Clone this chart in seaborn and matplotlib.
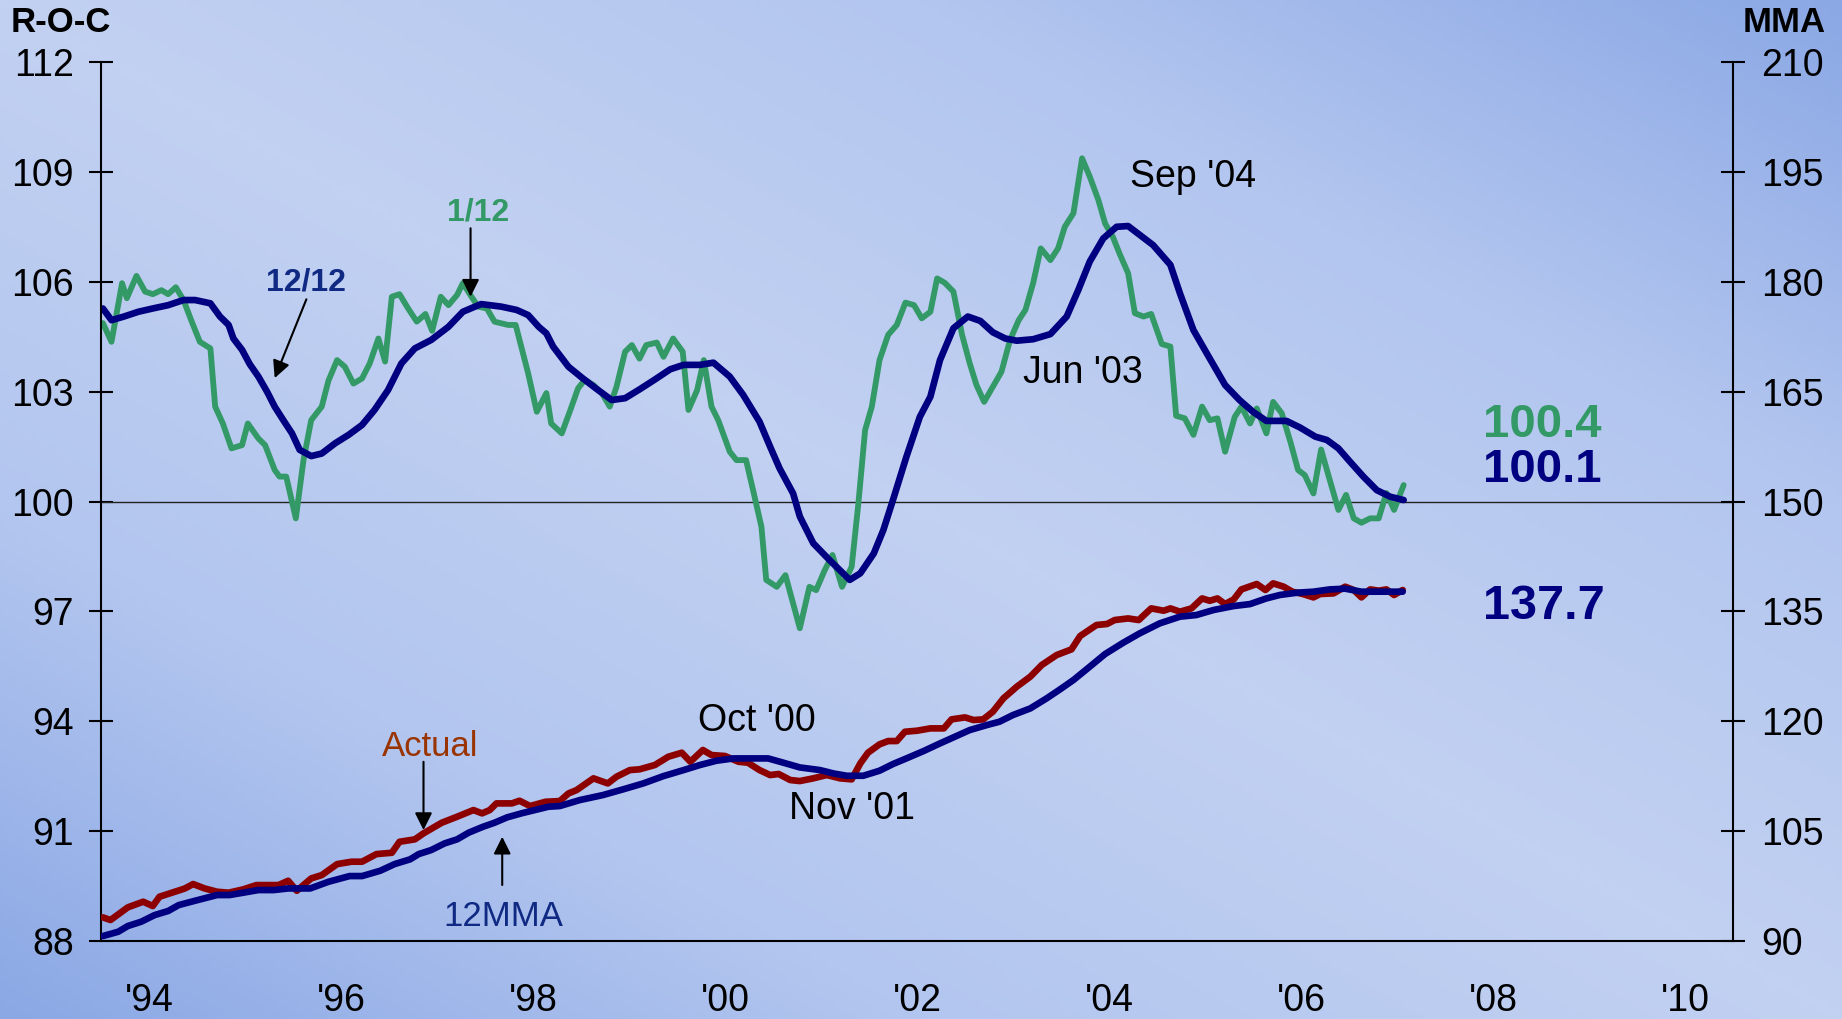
import numpy as np
import matplotlib
matplotlib.use("Agg")
import matplotlib.pyplot as plt
from matplotlib.colors import LinearSegmentedColormap
import seaborn as sns

# R-O-C 1/12 (green), read month by month
g_years = [1994.02, 1994.11, 1994.22, 1994.27, 1994.37, 1994.46, 1994.54, 1994.63, 1994.70, 1994.78, 1994.86, 1994.94,
           1995.03, 1995.14, 1995.19, 1995.27, 1995.36, 1995.47, 1995.53, 1995.64, 1995.71, 1995.81, 1995.86, 1995.93,
           1996.03, 1996.11, 1996.19, 1996.30, 1996.37, 1996.46, 1996.54, 1996.63, 1996.72, 1996.80, 1996.89, 1996.96,
           1997.03, 1997.11, 1997.20, 1997.29, 1997.38, 1997.45, 1997.54, 1997.62, 1997.71, 1997.77, 1997.86, 1997.93,
           1998.02, 1998.10, 1998.24, 1998.32, 1998.45, 1998.54, 1998.64, 1998.69, 1998.80, 1998.89, 1998.97,
           1999.04, 1999.13, 1999.22, 1999.30, 1999.37, 1999.46, 1999.53, 1999.61, 1999.68, 1999.79, 1999.86, 1999.96,
           2000.06, 2000.12, 2000.21, 2000.28, 2000.36, 2000.43, 2000.55, 2000.62, 2000.72, 2000.80, 2000.88, 2000.93,
           2001.04, 2001.13, 2001.20, 2001.28, 2001.38, 2001.45, 2001.54, 2001.62, 2001.72, 2001.82, 2001.89, 2001.96,
           2002.03, 2002.11, 2002.20, 2002.29, 2002.38, 2002.47, 2002.55, 2002.64, 2002.71, 2002.79, 2002.88, 2002.97,
           2003.05, 2003.12, 2003.20, 2003.29, 2003.38, 2003.47, 2003.56, 2003.63, 2003.71, 2003.79, 2003.89, 2003.97,
           2004.04, 2004.13, 2004.22, 2004.30, 2004.39, 2004.46, 2004.54, 2004.61, 2004.70, 2004.77, 2004.86, 2004.94,
           2005.05, 2005.14, 2005.20, 2005.29, 2005.38, 2005.47, 2005.55, 2005.63, 2005.71, 2005.81, 2005.88, 2005.97,
           2006.04, 2006.14, 2006.21, 2006.30, 2006.39, 2006.47, 2006.54, 2006.63, 2006.71, 2006.79, 2006.89, 2006.97,
           2007.05, 2007.13, 2007.22, 2007.31, 2007.39, 2007.47, 2007.57]
g_vals = [104.87, 104.36, 105.96, 105.55, 106.16, 105.73, 105.66, 105.77, 105.66, 105.85, 105.5, 104.95,
          104.36, 104.18, 102.59, 102.13, 101.45, 101.54, 102.13, 101.72, 101.54, 100.86, 100.68, 100.68,
          99.54, 101.13, 102.22, 102.59, 103.3, 103.86, 103.68, 103.22, 103.36, 103.77, 104.45, 103.82,
          105.59, 105.66, 105.27, 104.91, 105.12, 104.66, 105.59, 105.36, 105.64, 105.96, 105.59, 105.32,
          105.27, 104.91, 104.82, 104.82, 103.5, 102.45, 102.96, 102.13, 101.86, 102.5, 103.09,
          103.32, 103.18, 102.95, 102.59, 103.13, 104.09, 104.27, 103.9, 104.27, 104.34, 103.95, 104.45,
          104.09, 102.5, 103.04, 103.86, 102.59, 102.22, 101.36, 101.13, 101.13, 100.23, 99.31, 97.86,
          97.67, 97.99, 97.31, 96.54, 97.67, 97.58, 98.13, 98.54, 97.67, 98.22, 99.95, 101.95,
          102.59, 103.86, 104.55, 104.82, 105.43, 105.36, 105.0, 105.18, 106.09, 105.97, 105.73, 104.55,
          103.77, 103.18, 102.72, 103.13, 103.54, 104.41, 104.95, 105.23, 105.96, 106.91, 106.59, 106.91,
          107.50, 107.87, 109.37, 108.87, 108.23, 107.59, 107.23, 106.77, 106.23, 105.14, 105.05, 105.12,
          104.30, 104.23, 102.34, 102.27, 101.82, 102.59, 102.22, 102.27, 101.36, 102.31, 102.59, 102.13,
          102.54, 101.86, 102.72, 102.41, 101.63, 100.86, 100.72, 100.22, 101.42, 100.68, 99.77, 100.18,
          99.54, 99.42, 99.54, 99.54, 100.23, 99.77, 100.45]

# R-O-C 12/12 (navy)
n_years = [1994.02, 1994.11, 1994.24, 1994.39, 1994.54, 1994.70, 1994.86, 1994.98, 1995.14, 1995.24, 1995.33, 1995.38,
           1995.47, 1995.55, 1995.64, 1995.73, 1995.81, 1995.90, 1995.99, 1996.07, 1996.19, 1996.30, 1996.44, 1996.58,
           1996.72, 1996.85, 1996.99, 1997.13, 1997.27, 1997.44, 1997.62, 1997.77, 1997.96, 1998.17, 1998.33, 1998.45,
           1998.56, 1998.64, 1998.71, 1998.87, 1999.02, 1999.18, 1999.32, 1999.46, 1999.61, 1999.77, 1999.93, 2000.07,
           2000.24, 2000.38, 2000.55, 2000.69, 2000.86, 2000.97, 2001.07, 2001.21, 2001.28, 2001.42, 2001.59, 2001.80,
           2001.91, 2002.05, 2002.15, 2002.25, 2002.39, 2002.53, 2002.64, 2002.74, 2002.88, 2003.03, 2003.16, 2003.29,
           2003.42, 2003.54, 2003.71, 2003.89, 2004.06, 2004.18, 2004.30, 2004.44, 2004.58, 2004.70, 2004.82, 2004.96,
           2005.14, 2005.24, 2005.38, 2005.52, 2005.71, 2005.86, 2006.00, 2006.14, 2006.35, 2006.49, 2006.65, 2006.77,
           2006.89, 2007.01, 2007.15, 2007.29, 2007.43, 2007.57]
n_vals = [105.27, 104.95, 105.05, 105.18, 105.27, 105.36, 105.5, 105.5, 105.41, 105.05, 104.82, 104.45,
          104.14, 103.75, 103.41, 103.0, 102.59, 102.22, 101.86, 101.41, 101.24, 101.31, 101.59, 101.82,
          102.09, 102.5, 103.04, 103.77, 104.18, 104.41, 104.77, 105.18, 105.39, 105.32, 105.23, 105.09,
          104.77, 104.59, 104.23, 103.68, 103.36, 103.04, 102.77, 102.82, 103.06, 103.33, 103.61, 103.73,
          103.73, 103.79, 103.41, 102.91, 102.18, 101.5, 100.90, 100.22, 99.59, 98.86, 98.4, 97.86,
          98.04, 98.58, 99.22, 100.04, 101.22, 102.31, 102.86, 103.86, 104.73, 105.05, 104.93, 104.62,
          104.45, 104.39, 104.43, 104.57, 105.05, 105.77, 106.55, 107.18, 107.50, 107.52, 107.28, 107.0,
          106.46, 105.68, 104.68, 104.04, 103.18, 102.77, 102.45, 102.20, 102.20, 102.02, 101.77, 101.68,
          101.45, 101.09, 100.68, 100.31, 100.13, 100.04]

# MMA actual (red)
a_years = [1994.02, 1994.10, 1994.28, 1994.44, 1994.54, 1994.61, 1994.77, 1994.875, 1994.96, 1995.08, 1995.21, 1995.33,
           1995.48, 1995.62, 1995.85, 1995.95, 1996.04, 1996.19, 1996.30, 1996.46, 1996.61, 1996.72, 1996.87, 1997.03,
           1997.11, 1997.27, 1997.36, 1997.55, 1997.71, 1997.88, 1997.97, 1998.05, 1998.12, 1998.28, 1998.36, 1998.47,
           1998.63, 1998.78, 1998.87, 1998.955, 1999.13, 1999.28, 1999.37, 1999.51, 1999.61, 1999.77, 1999.91, 2000.05,
           2000.14, 2000.27, 2000.36, 2000.50, 2000.64, 2000.74, 2000.86, 2000.97, 2001.06, 2001.18, 2001.28, 2001.42,
           2001.56, 2001.70, 2001.82, 2001.91, 2001.99, 2002.11, 2002.20, 2002.29, 2002.375, 2002.50, 2002.64, 2002.78,
           2002.86, 2003.00, 2003.09, 2003.19, 2003.29, 2003.40, 2003.54, 2003.68, 2003.80, 2003.955, 2004.11, 2004.20,
           2004.37, 2004.48, 2004.56, 2004.70, 2004.81, 2004.94, 2005.07, 2005.14, 2005.24, 2005.36, 2005.47, 2005.55,
           2005.63, 2005.71, 2005.80, 2005.88, 2006.04, 2006.13, 2006.21, 2006.32, 2006.41, 2006.52, 2006.63, 2006.70,
           2006.84, 2006.96, 2007.05, 2007.13, 2007.22, 2007.31, 2007.39, 2007.47, 2007.56]
a_vals = [93.23, 92.87, 94.6, 95.37, 94.78, 96.05, 96.73, 97.18, 97.78, 97.18, 96.73, 96.6,
          97.05, 97.64, 97.64, 98.23, 96.86, 98.55, 99.0, 100.5, 100.83, 100.83, 101.87, 102.05,
          103.55, 103.88, 104.70, 106.15, 106.97, 107.88, 107.43, 107.88, 108.79, 108.79, 109.15, 108.43,
          109.01, 109.11, 110.15, 110.61, 112.21, 111.52, 112.43, 113.34, 113.44, 114.03, 115.16, 115.71,
          114.48, 116.08, 115.39, 115.26, 114.48, 114.34, 113.34, 112.66, 112.80, 111.98, 111.84, 112.21,
          112.66, 112.21, 112.07, 114.25, 115.71, 116.85, 117.30, 117.30, 118.57, 118.71, 119.03, 119.03,
          120.26, 120.53, 120.17, 120.26, 121.30, 123.12, 124.72, 126.08, 127.68, 129.04, 129.82, 131.64,
          133.14, 133.28, 133.82, 134.04, 133.82, 135.41, 135.09, 135.41, 134.96, 135.41, 136.77, 136.45,
          136.77, 136.0, 136.64, 138.00, 138.74, 137.92, 138.83, 138.37, 137.69, 137.37, 136.91, 137.37,
          137.46, 138.37, 137.92, 136.91, 138.0, 137.83, 138.0, 137.24, 137.92]

# MMA 12 month moving average (navy)
m_years = [1994.02, 1994.18, 1994.28, 1994.42, 1994.56, 1994.70, 1994.81, 1994.98, 1995.21, 1995.34, 1995.50, 1995.64,
           1995.80, 1995.95, 1996.18, 1996.37, 1996.59, 1996.72, 1996.91, 1997.06, 1997.22, 1997.31, 1997.44, 1997.58,
           1997.71, 1997.83, 1997.98, 1998.10, 1998.23, 1998.38, 1998.52, 1998.66, 1998.78, 1998.99, 1999.23, 1999.44,
           1999.65, 1999.86, 2000.07, 2000.24, 2000.41, 2000.59, 2000.79, 2000.95, 2001.11, 2001.28, 2001.49, 2001.63,
           2001.77, 2001.94, 2002.11, 2002.25, 2002.39, 2002.57, 2002.74, 2002.88, 2003.05, 2003.23, 2003.36, 2003.50,
           2003.68, 2003.85, 2003.99, 2004.13, 2004.30, 2004.46, 2004.65, 2004.82, 2005.03, 2005.24, 2005.41, 2005.59,
           2005.80, 2005.97, 2006.14, 2006.28, 2006.46, 2006.63, 2006.80, 2006.96, 2007.13, 2007.33, 2007.56]
m_vals = [90.68, 91.27, 92.05, 92.64, 93.55, 94.10, 94.91, 95.50, 96.28, 96.28, 96.64, 96.96,
          96.96, 97.18, 97.18, 98.09, 98.87, 98.87, 99.60, 100.51, 101.15, 101.87, 102.42, 103.33,
          103.88, 104.79, 105.60, 106.15, 106.88, 107.43, 107.88, 108.33, 108.43, 109.25, 109.93, 110.71,
          111.52, 112.52, 113.34, 114.03, 114.61, 114.93, 114.93, 114.93, 114.34, 113.70, 113.34, 112.88,
          112.56, 112.56, 113.25, 114.16, 114.93, 115.94, 116.98, 117.80, 118.80, 119.49, 119.94, 120.85,
          121.75, 123.12, 124.35, 125.63, 127.45, 129.18, 130.73, 132.0, 133.37, 134.28, 134.50, 135.19,
          135.73, 136.0, 136.77, 137.24, 137.55, 137.69, 138.0, 138.1, 137.69, 137.69, 137.69]

year_labels = ["'94", "'96", "'98", "'00", "'02", "'04", "'06", "'08", "'10"]
roc_ticks = list(range(88, 113, 3))
mma_ticks = list(range(90, 211, 15))

GREEN = "#339966"
NAVY = "#000080"
RED = "#8c0000"

sns.set_theme(style="white")
plt.rcParams["font.family"] = ["Liberation Sans", "DejaVu Sans"]
plt.rcParams["text.color"] = "black"
plt.rcParams["xtick.color"] = "black"
plt.rcParams["ytick.color"] = "black"
NARROW = ["Liberation Sans Narrow", "Liberation Sans", "DejaVu Sans"]

fig = plt.figure(figsize=(18.42, 10.19), dpi=100)

# background: light along the TL-BR diagonal, darker toward TR and BL corners
bg = fig.add_axes([0, 0, 1, 1], zorder=-10)
u, v = np.meshgrid(np.linspace(0, 1, 400), np.linspace(0, 1, 220))
grad = np.abs(u - v)
cmap = LinearSegmentedColormap.from_list("bg", ["#c2d1f2", "#b3c6ef", "#8ba8e5"])
bg.imshow(grad, cmap=cmap, aspect="auto", extent=[0, 1, 0, 1], origin="upper")
bg.axis("off")

ax = fig.add_axes([0.0548, 0.0765, 0.886, 0.8627])
ax.set_facecolor("none")
ax2 = ax.twinx()
ax2.set_facecolor("none")

sns.lineplot(x=g_years, y=g_vals, ax=ax, color=GREEN, linewidth=4.2, sort=False)
sns.lineplot(x=n_years, y=n_vals, ax=ax, color=NAVY, linewidth=4.8, sort=False)
ax.axhline(100, color="#222222", linewidth=1.0, zorder=1)
sns.lineplot(x=a_years, y=a_vals, ax=ax2, color=RED, linewidth=4.8, sort=False)
sns.lineplot(x=m_years, y=m_vals, ax=ax2, color=NAVY, linewidth=4.8, sort=False)

ax.set_xlim(1994, 2011)
ax.set_ylim(88, 112)
ax2.set_ylim(90, 210)
ax.set_xlabel("")
ax.set_ylabel("")
ax2.set_ylabel("")

ax.set_xticks(range(1994, 2012))
ax.set_xticklabels([])
ax.set_xticks([y + 0.5 for y in range(1994, 2011, 2)], minor=True)
ax.set_xticklabels(year_labels, minor=True, fontsize=27, family=NARROW)
ax.tick_params(axis="x", which="major", direction="out", length=9, width=1.5, color="black")
ax.tick_params(axis="x", which="minor", length=0, pad=30, colors="black")

ax.set_yticks(roc_ticks)
ax.set_yticklabels([str(t) for t in roc_ticks], fontsize=27)
ax.tick_params(axis="y", direction="inout", length=17, width=1.5, pad=11, colors="black", left=True)
ax2.set_yticks(mma_ticks)
ax2.set_yticklabels([str(t) for t in mma_ticks], fontsize=27)
ax2.tick_params(axis="y", direction="inout", length=17, width=1.5, pad=12, colors="black", right=True)

for a in (ax, ax2):
    a.grid(False)
    a.spines["top"].set_visible(False)
    for s in ("left", "right", "bottom"):
        a.spines[s].set_color("black")
        a.spines[s].set_linewidth(1.5)
ax.spines["right"].set_visible(False)
ax2.spines["left"].set_visible(False)
ax2.spines["bottom"].set_visible(False)

# axis titles
fig.text(0.006, 0.978, "R-O-C", fontsize=25, fontweight="bold", ha="left", va="center")
fig.text(0.991, 0.978, "MMA", fontsize=25, fontweight="bold", ha="right", va="center")

# annotations on the R-O-C panel
arrow = dict(arrowstyle="-|>", color="black", lw=1.5, mutation_scale=26, shrinkA=0, shrinkB=0)
ax.text(1996.14, 105.97, "12/12", color="#102a84", fontsize=23, fontweight="bold", ha="center", va="center")
ax.annotate("", xy=(1995.81, 103.37), xytext=(1996.14, 105.52), arrowprops=arrow)
ax.text(1997.93, 107.88, "1/12", color=GREEN, fontsize=23, fontweight="bold", ha="center", va="center")
ax.annotate("", xy=(1997.85, 105.59), xytext=(1997.85, 107.46), arrowprops=arrow)
ax.text(2005.375, 108.85, "Sep '04", fontsize=27, ha="center", va="center")
ax.text(2004.23, 103.5, "Jun '03", fontsize=27, ha="center", va="center")

# annotations on the MMA panel
ax2.text(2000.83, 120.0, "Oct '00", fontsize=27, ha="center", va="center")
ax2.text(2001.82, 108.0, "Nov '01", fontsize=27, ha="center", va="center")
ax2.text(1997.43, 116.6, "Actual", color="#993300", fontsize=25, ha="center", va="center")
ax2.annotate("", xy=(1997.36, 105.15), xytext=(1997.36, 114.47), arrowprops=arrow)
ax2.text(1998.19, 93.41, "12MMA", color="#102a84", fontsize=25, ha="center", va="center")
ax2.annotate("", xy=(1998.18, 104.24), xytext=(1998.18, 97.65), arrowprops=arrow)

# latest values
ax.text(2008.40, 102.1, "100.4", color=GREEN, fontsize=34, fontweight="bold", ha="left", va="center")
ax.text(2008.40, 100.85, "100.1", color=NAVY, fontsize=34, fontweight="bold", ha="left", va="center")
ax2.text(2008.40, 135.6, "137.7", color=NAVY, fontsize=35, fontweight="bold", ha="left", va="center")

fig.savefig("out.png", dpi=100)
